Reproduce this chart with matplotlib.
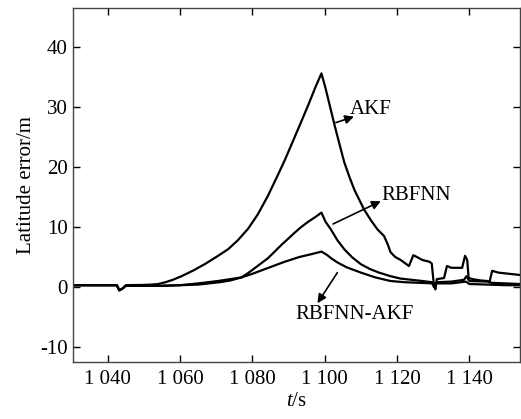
import matplotlib
matplotlib.use("Agg")
import matplotlib.pyplot as plt

# ---- data ----
t_akf = [1030, 1040, 1042.5, 1043.2, 1044, 1045, 1050, 1052, 1054, 1056, 1058, 1060.4, 1063.5,
         1066.8, 1070, 1073.3, 1076, 1078.8, 1081.5, 1084.3, 1087, 1089, 1091, 1093.4, 1095.5,
         1097.5, 1099.1, 1100.2, 1101.5, 1102.8, 1104, 1105.4, 1106.8, 1108.2, 1110.9, 1112.8,
         1114.6, 1116.4, 1117.5, 1118.2, 1119.5, 1121, 1123.3, 1124.5, 1125.5, 1127, 1129,
         1129.6, 1130.2, 1130.6, 1131, 1133, 1133.8, 1135, 1138, 1138.8, 1139.4, 1139.8, 1141,
         1143, 1145, 1145.6, 1146.3, 1148, 1151, 1154]
v_akf = [0.3, 0.3, 0.3, -0.5, -0.3, 0.3, 0.35, 0.4, 0.5, 0.8, 1.2, 1.8, 2.7,
         3.8, 5.0, 6.3, 7.8, 9.7, 12.1, 15.2, 18.6, 21.2, 24.0, 27.4, 30.4,
         33.4, 35.6, 33.2, 30.0, 26.8, 24.0, 20.8, 18.4, 16.2, 12.9, 11.1,
         9.6, 8.5, 7.0, 5.8, 5.0, 4.5, 3.5, 5.3, 5.0, 4.5, 4.2,
         3.9, 0.3, -0.4, 1.3, 1.5, 3.5, 3.2, 3.2, 5.2, 4.5, 1.5, 1.3,
         1.1, 1.0, 0.9, 2.7, 2.4, 2.2, 2.0]

t_rbf = [1030, 1042.5, 1043.2, 1044, 1045, 1055, 1060, 1065, 1068, 1071, 1074, 1077, 1079,
         1081, 1084.3, 1086, 1088, 1090, 1091.6, 1093.5, 1095.5, 1097.5, 1099.1, 1100.2,
         1101.7, 1103.5, 1105.4, 1107.5, 1110, 1112.5, 1115, 1118.2, 1121, 1124, 1127, 1129.6,
         1130.2, 1131, 1135, 1138.5, 1139.2, 1140, 1145, 1146, 1150, 1154]
v_rbf = [0.3, 0.3, -0.5, -0.3, 0.2, 0.2, 0.3, 0.4, 0.6, 0.8, 1.1, 1.6, 2.4,
         3.3, 4.8, 5.8, 7.0, 8.1, 9.0, 10.0, 10.9, 11.7, 12.4, 10.9,
         9.6, 7.8, 6.3, 5.0, 3.8, 3.0, 2.4, 1.8, 1.4, 1.2, 1.0, 0.8,
         0.0, 0.8, 0.9, 1.2, 1.8, 1.0, 0.9, 0.7, 0.6, 0.5]

t_rak = [1030, 1042.5, 1043.2, 1044, 1045, 1055, 1060, 1065, 1070.5, 1077, 1080, 1084,
         1088.9, 1093, 1096.5, 1099.1, 1100.5, 1102, 1103.5, 1106, 1110, 1114, 1118.2, 1122,
         1126, 1130, 1135, 1139, 1140, 1145, 1150, 1154]
v_rak = [0.3, 0.3, -0.6, -0.3, 0.2, 0.2, 0.3, 0.6, 1.0, 1.6, 2.2, 3.1,
         4.2, 5.0, 5.5, 5.9, 5.4, 4.7, 4.1, 3.3, 2.4, 1.6, 1.0, 0.8,
         0.7, 0.6, 0.6, 0.9, 0.5, 0.4, 0.3, 0.3]

x_ticks = [1040, 1060, 1080, 1100, 1120, 1140]
x_ticklabels = ["1 040", "1 060", "1 080", "1 100", "1 120", "1 140"]
y_ticks = [-10, 0, 10, 20, 30, 40]

plt.rcParams['font.family'] = ['Liberation Serif', 'DejaVu Serif']
plt.rcParams['mathtext.fontset'] = 'custom'
plt.rcParams['mathtext.it'] = 'Liberation Serif:italic'
plt.rcParams['mathtext.rm'] = 'Liberation Serif'
plt.rcParams['axes.unicode_minus'] = False

fig = plt.figure(figsize=(5.21, 4.19), dpi=100)
ax = fig.add_axes([73/521, 1-362/419, 447/521, 354/419])

lw = 1.6
ax.plot(t_akf, v_akf, color='black', lw=lw)
ax.plot(t_rbf, v_rbf, color='black', lw=lw)
ax.plot(t_rak, v_rak, color='black', lw=lw)

ax.set_xlim(1030.4, 1154)
ax.set_ylim(-12.5, 46.5)
ax.set_xticks(x_ticks)
ax.set_xticklabels(x_ticklabels)
ax.set_yticks(y_ticks)
fs = 15
ax.tick_params(direction='in', top=True, right=True, length=5, width=1,
               labelsize=fs, colors='black')
ax.tick_params(axis='x', pad=6)
ax.tick_params(axis='y', pad=4)
for s in ax.spines.values():
    s.set_linewidth(1.0)
    s.set_color('#444444')

ax.set_ylabel('Latitude error/m', fontsize=fs, labelpad=3)
ax.set_xlabel(r'$\it{t}$/s', fontsize=fs, labelpad=2)

arrow = dict(arrowstyle='-|>', color='black', lw=1.2, mutation_scale=13, shrinkA=0, shrinkB=0)
ax.annotate('', xy=(1108.1, 28.4), xytext=(1103.1, 27.4), arrowprops=arrow)
ax.text(1106.8, 28.9, 'AKF', fontsize=fs, va='baseline', ha='left')
ax.annotate('', xy=(1115.5, 14.3), xytext=(1102.3, 10.5), arrowprops=arrow)
ax.text(1115.8, 15.2, 'RBFNN', fontsize=fs, va='center', ha='left')
ax.annotate('', xy=(1098.0, -2.7), xytext=(1103.5, 2.4), arrowprops=arrow)
ax.text(1108.2, -4.6, 'RBFNN-AKF', fontsize=fs, va='center', ha='center')

fig.savefig('out.png', dpi=100)
